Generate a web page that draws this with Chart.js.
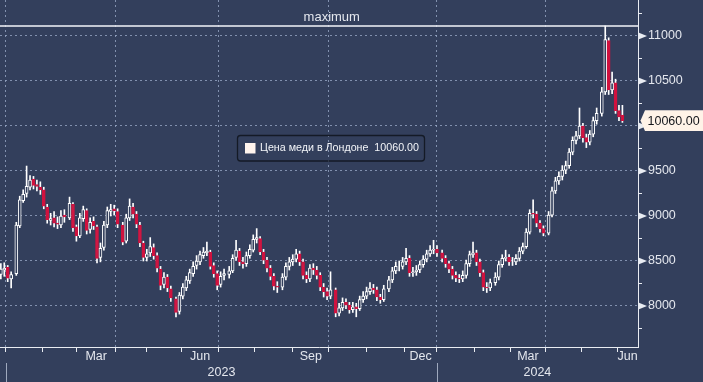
<!DOCTYPE html>
<html><head><meta charset="utf-8">
<script src="https://cdn.jsdelivr.net/npm/chart.js@4.4.0/dist/chart.umd.min.js"></script>
<style>html,body{margin:0;padding:0;background:#333f5c;overflow:hidden}canvas{display:block}</style>
</head><body>
<canvas id="c" width="703" height="382"></canvas>
<script>
const seriesName = 'Цена меди в Лондоне';

// trading-day index of each candle (0 = first trading day of 2023)
const tradingDay = [-3,-1,1,3,6,8,10,12,14,16,
18,20,22,24,26,28,30,32,34,37,
39,41,43,45,47,49,51,53,55,57,
59,61,63,65,68,70,72,74,76,78,
80,82,84,86,88,90,92,94,96,99,
101,103,105,107,109,111,113,115,117,119,
121,123,125,127,130,132,134,136,138,140,
142,144,146,148,150,152,154,156,158,161,
163,165,167,169,171,173,175,177,179,181,
183,185,187,189,192,194,196,198,200,202,
204,206,208,210,212,214,216,218,220,223,
225,227,229,231,233,235,237,239,241,243,
245,247,249,251,254,256,258,260,262,264,
266,268,270,272,274,276,278,280,282,285,
287,289,291,293,295,297,299,301,303,305,
307,309,311,313,316,318,320,322,324,326,
328,330,332,334,336,338,340,342,344,347,
349,351,353,355,357,359];

const openPrice = [8350,8400,8430,8300,8360,8890,9170,9250,9320,9410,
9350,9320,9290,9100,8950,8980,8920,8900,9010,8980,
9130,8880,8780,8970,9060,8850,8940,8880,8540,8650,
8900,9050,9080,9050,8900,8720,8980,9100,9020,8900,
8700,8540,8590,8650,8560,8410,8240,8320,8190,8080,
7940,8110,8200,8280,8360,8450,8490,8560,8590,8600,
8450,8360,8240,8340,8350,8390,8540,8610,8490,8470,
8560,8620,8740,8750,8600,8510,8420,8330,8220,8210,
8320,8440,8490,8520,8580,8490,8340,8300,8420,8400,
8340,8210,8160,8110,8180,7920,7980,8040,8010,7960,
7990,7970,8070,8110,8160,8200,8180,8100,8070,8190,
8290,8390,8440,8440,8490,8530,8370,8380,8400,8460,
8520,8580,8620,8630,8590,8530,8470,8410,8340,8310,
8300,8340,8470,8570,8590,8490,8370,8210,8200,8260,
8320,8460,8530,8540,8490,8490,8530,8610,8660,8820,
9030,9020,8920,8860,8810,9010,9280,9390,9440,9510,
9560,9710,9840,9890,10000,9870,9820,9910,10060,10140,
10380,10950,10400,10480,10170,10120];

const highPrice = [8470,8480,8450,8380,8930,9220,9290,9555,9450,9440,
9400,9380,9320,9130,9030,9050,8990,9060,9070,9210,
9150,8900,9030,9110,9080,8980,8990,8900,8700,8940,
9100,9130,9120,9080,8930,9020,9190,9140,9050,8930,
8720,8630,8760,8690,8590,8440,8370,8350,8220,8100,
8150,8250,8330,8410,8490,8560,8610,8650,8710,8620,
8480,8390,8380,8410,8440,8570,8730,8640,8540,8600,
8680,8790,8860,8770,8630,8540,8450,8360,8270,8360,
8480,8540,8570,8630,8610,8520,8380,8460,8470,8440,
8370,8250,8200,8380,8200,8030,8090,8080,8040,8040,
8030,8110,8160,8210,8260,8240,8210,8130,8230,8330,
8430,8490,8500,8540,8640,8560,8430,8450,8500,8560,
8620,8670,8730,8670,8620,8560,8500,8440,8380,8350,
8390,8510,8610,8710,8620,8520,8400,8260,8300,8370,
8500,8570,8620,8570,8540,8570,8650,8700,8860,9070,
9180,9050,8950,8890,9050,9320,9430,9490,9560,9610,
9750,9880,9940,10200,10030,9910,9950,10100,10200,10430,
11111,10980,10600,10520,10230,10230];

const lowPrice = [8300,8330,8270,8200,8340,8870,9150,9210,9290,9300,
9280,9240,9080,8920,8900,8880,8860,8870,8930,8960,
8830,8720,8760,8940,8800,8810,8850,8480,8490,8620,
8870,9000,9010,8870,8680,8700,8950,8980,8870,8660,
8500,8500,8550,8520,8380,8180,8200,8160,8050,7880,
7910,8080,8170,8250,8330,8410,8460,8530,8560,8410,
8320,8180,8210,8290,8310,8370,8510,8450,8420,8440,
8530,8600,8700,8570,8470,8380,8290,8180,8150,8180,
8290,8400,8450,8490,8450,8300,8260,8270,8350,8300,
8170,8100,8070,8080,7880,7890,7950,7970,7920,7930,
7880,7950,8040,8080,8130,8140,8060,8030,8050,8160,
8260,8360,8390,8410,8460,8330,8330,8340,8370,8430,
8490,8550,8580,8550,8490,8430,8370,8300,8270,8260,
8270,8310,8440,8540,8450,8330,8170,8150,8170,8230,
8290,8430,8500,8450,8450,8460,8500,8580,8640,8800,
8980,8880,8820,8780,8790,8990,9250,9350,9400,9470,
9530,9680,9800,9860,9820,9760,9790,9880,10020,10110,
10350,10350,10360,10140,10060,10040];

const closePrice = [8410,8420,8310,8350,8900,9180,9240,9330,9400,9340,
9330,9290,9110,8960,8970,8920,8910,9000,8990,9140,
8870,8780,8980,9070,8840,8930,8890,8530,8640,8900,
9060,9070,9060,8910,8710,8980,9110,9020,8910,8700,
8540,8580,8660,8560,8420,8230,8320,8200,8090,7930,
8120,8210,8290,8370,8440,8500,8570,8600,8610,8440,
8360,8230,8330,8360,8390,8530,8620,8490,8470,8560,
8630,8740,8760,8600,8510,8420,8330,8220,8210,8320,
8440,8490,8520,8580,8490,8340,8300,8420,8400,8340,
8210,8160,8110,8180,7920,7980,8040,8010,7960,7990,
7970,8070,8110,8160,8200,8180,8100,8070,8190,8290,
8390,8440,8440,8490,8530,8370,8380,8400,8460,8520,
8580,8620,8630,8590,8530,8470,8410,8340,8310,8300,
8340,8470,8570,8590,8490,8370,8210,8200,8260,8320,
8460,8530,8540,8490,8490,8530,8610,8660,8820,9030,
9020,8920,8860,8810,9010,9280,9390,9440,9510,9560,
9710,9840,9890,10000,9870,9820,9910,10060,10140,10380,
10960,10400,10480,10170,10100,10060];

// axis: month boundaries, quarter grid lines, labels (trading-day index)
const monthStartDays = [0,21,41,64,82,102,124,145,167,188,210,232,251,273,294,314,335,356];
const quarterStartDays = [0,64,124,188,251,314];
const monthLabelDays = [52.5,113,177.5,241.5,304,362];
const monthLabels = ['Mar','Jun','Sep','Dec','Mar','Jun'];
const yearStartDays = [0,251];
const yearLabelDays = [125.5,309.5];
const yearLabels = ['2023','2024'];
const yMajorTicks = [8000,8500,9000,9500,10000,10500,11000];
const yMinorTicks = [7750,8250,8750,9250,9750,10250,10750,11250];

const X_MIN = -3.494, X_MAX = 368.08;
const Y_MIN = 7544.4, Y_MAX = 11400;

const BG = '#333f5c';
const GRID = 'rgba(150,166,196,0.8)';
const AXIS = '#e9ecf2';
const TEXT = '#e4e7ee';
const RED = '#d0123f';
const UP = '#ffffff';
const FONT = '"Liberation Sans", Arial, sans-serif';
const NONE = 'rgba(0,0,0,0)';

const isUp = i => closePrice[i] >= openPrice[i];

const decor = {
  id: 'decor',
  beforeDraw(chart) {
    const c = chart.ctx;
    c.save(); c.fillStyle = BG; c.fillRect(0, 0, chart.width, chart.height); c.restore();
  },
  afterDraw(chart) {
    const c = chart.ctx, a = chart.chartArea, y = chart.scales.y, xy = chart.scales.xy;
    c.save();
    // year separators
    c.strokeStyle = 'rgba(165,175,195,0.95)'; c.lineWidth = 1;
    yearStartDays.forEach(d => {
      const px = Math.round(xy.getPixelForValue(d)) + 0.5;
      c.beginPath(); c.moveTo(px, xy.top); c.lineTo(px, chart.height); c.stroke();
    });
    // maximum line
    const maxV = Math.max(...highPrice);
    const my = Math.round(y.getPixelForValue(maxV));
    c.strokeStyle = '#f4f6fa'; c.lineWidth = 1.6;
    c.beginPath(); c.moveTo(a.left, my); c.lineTo(a.right, my); c.stroke();
    c.font = '13px ' + FONT; c.fillStyle = TEXT; c.textAlign = 'center'; c.textBaseline = 'alphabetic';
    c.fillText('maximum', a.left + a.width * 0.52, my - 5.5);
    // axis pointers
    c.fillStyle = AXIS;
    yMajorTicks.forEach(v => {
      const py = y.getPixelForValue(v);
      c.beginPath(); c.moveTo(a.right + 1, py - 3.2); c.lineTo(a.right + 9, py); c.lineTo(a.right + 1, py + 3.2); c.closePath(); c.fill();
    });
    // legend box
    const lx = 237.5, ly = 135.5, lw = 187, lh = 25.5;
    c.strokeStyle = '#141a26'; c.lineWidth = 1.3;
    c.beginPath(); c.roundRect(lx, ly, lw, lh, 3); c.stroke();
    c.fillStyle = '#fff4ee'; c.fillRect(245, 143, 10.5, 10.5);
    c.fillStyle = '#f2f4f8'; c.font = '10.7px ' + FONT; c.textAlign = 'left'; c.textBaseline = 'middle';
    const last = closePrice[closePrice.length - 1];
    c.fillText(seriesName + '  ' + last.toFixed(2), 260, 148.5);
    // last value tag
    const ty = y.getPixelForValue(last);
    c.fillStyle = '#fff3e8';
    c.beginPath();
    c.moveTo(a.right + 2.5, ty); c.lineTo(a.right + 7, ty - 10.3); c.lineTo(chart.width, ty - 10.3);
    c.lineTo(chart.width, ty + 10.3); c.lineTo(a.right + 7, ty + 10.3); c.closePath(); c.fill();
    c.fillStyle = '#15171c'; c.font = '12.5px ' + FONT; c.textAlign = 'left'; c.textBaseline = 'middle';
    c.fillText(last.toFixed(2), a.right + 9.5, ty + 0.5);
    c.restore();
  }
};

new Chart(document.getElementById('c'), {
  type: 'bar',
  data: {
    datasets: [
      {
        label: seriesName,
        data: tradingDay.map((t, i) => ({ x: t, y: [openPrice[i], closePrice[i]] })),
        backgroundColor: ctx => (ctx.dataIndex !== undefined && !isUp(ctx.dataIndex)) ? RED : BG,
        borderColor: ctx => (ctx.dataIndex !== undefined && !isUp(ctx.dataIndex)) ? RED : UP,
        borderWidth: 1, borderSkipped: false, barThickness: 3, maxBarThickness: 3,
        grouped: false, order: 0
      },
      {
        label: 'range',
        data: tradingDay.map((t, i) => ({ x: t, y: [lowPrice[i], highPrice[i]] })),
        backgroundColor: UP,
        borderWidth: 0, barThickness: 1, maxBarThickness: 1,
        grouped: false, order: 1
      }
    ]
  },
  options: {
    responsive: false, animation: false, devicePixelRatio: 1,
    layout: { padding: 0 },
    plugins: { legend: { display: false }, tooltip: { enabled: false } },
    scales: {
      x: {
        type: 'linear', position: 'bottom', weight: 0, min: X_MIN, max: X_MAX, offset: false,
        afterBuildTicks: s => { s.ticks = monthStartDays.concat(monthLabelDays).sort((p, q) => p - q).map(v => ({ value: v })); },
        afterFit: s => { s.height = 16; s.paddingLeft = 0; s.paddingRight = 0; },
        grid: {
          offset: false, lineWidth: 1, drawTicks: true, tickLength: 5,
          color: ctx => (ctx.tick && quarterStartDays.includes(ctx.tick.value)) ? GRID : NONE,
          tickColor: ctx => (ctx.tick && monthStartDays.includes(ctx.tick.value)) ? AXIS : NONE
        },
        border: { display: true, color: AXIS, width: 1, dash: [2, 3] },
        ticks: {
          autoSkip: false, maxRotation: 0, minRotation: 0, padding: -3, color: TEXT,
          font: { family: FONT, size: 12.5 },
          callback: v => { const i = monthLabelDays.indexOf(v); return i >= 0 ? monthLabels[i] : ''; }
        }
      },
      xy: {
        type: 'linear', axis: 'x', position: 'bottom', weight: 1, min: X_MIN, max: X_MAX, offset: false,
        afterBuildTicks: s => { s.ticks = yearLabelDays.map(v => ({ value: v })); },
        afterFit: s => { s.height = 19; s.paddingLeft = 0; s.paddingRight = 0; },
        grid: { display: false, drawOnChartArea: false, drawTicks: false },
        border: { display: false },
        ticks: {
          autoSkip: false, maxRotation: 0, minRotation: 0, padding: 2, color: TEXT,
          font: { family: FONT, size: 12.5 },
          callback: v => { const i = yearLabelDays.indexOf(v); return i >= 0 ? yearLabels[i] : ''; }
        }
      },
      y: {
        type: 'linear', position: 'right', min: Y_MIN, max: Y_MAX,
        afterBuildTicks: s => { s.ticks = yMinorTicks.concat(yMajorTicks).sort((p, q) => p - q).map(v => ({ value: v })); },
        afterFit: s => { s.width = 65; s.paddingTop = 0; s.paddingBottom = 0; },
        grid: {
          lineWidth: 1, drawTicks: true, tickLength: 4,
          color: ctx => (ctx.tick && yMajorTicks.includes(ctx.tick.value)) ? GRID : NONE,
          tickColor: AXIS
        },
        border: { display: true, color: AXIS, width: 1, dash: [2, 3] },
        ticks: {
          padding: 6, color: TEXT, font: { family: FONT, size: 12.5 },
          callback: v => yMajorTicks.includes(v) ? String(v) : ''
        }
      }
    }
  },
  plugins: [decor]
});
</script>
</body></html>
